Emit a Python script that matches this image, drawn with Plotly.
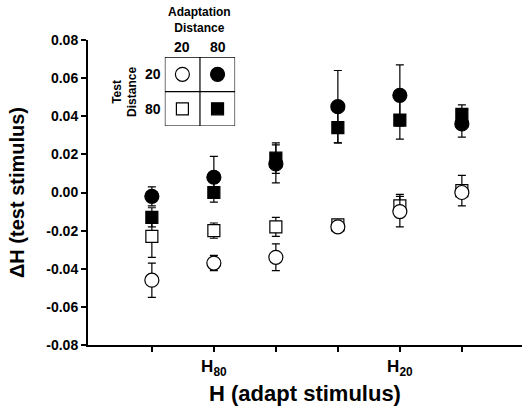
import plotly.graph_objects as go

# Data
x_pos = [1, 2, 3, 4, 5, 6]
x_tick_vals = [1, 2, 3, 4, 5, 6]
x_tick_labels = ["", "H<sub>80</sub>", "", "", "H<sub>20</sub>", ""]

# Test 20 / Adapt 20 (open circle)
oc_y = [-0.046, -0.037, -0.034, -0.018, -0.010, 0.000]
oc_e = [0.009, 0.004, 0.007, 0.002, 0.008, 0.002]
# Test 20 / Adapt 80 (filled circle)
fc_y = [-0.002, 0.008, 0.015, 0.045, 0.051, 0.036]
fc_e = [0.005, 0.011, 0.010, 0.019, 0.016, 0.007]
# Test 80 / Adapt 20 (open square)
os_y = [-0.023, -0.020, -0.018, -0.017, -0.007, 0.001]
os_e = [0.011, 0.004, 0.005, 0.002, 0.006, 0.008]
# Test 80 / Adapt 80 (filled square)
fs_y = [-0.013, 0.000, 0.018, 0.034, 0.038, 0.041]
fs_e = [0.005, 0.005, 0.008, 0.008, 0.010, 0.005]

y_ticks = [-0.08, -0.06, -0.04, -0.02, 0.00, 0.02, 0.04, 0.06, 0.08]

# Inset key
key_x = [0.5, 1.5, 0.5, 1.5]
key_y = [1.5, 1.5, 0.5, 0.5]
key_symbols = ["circle", "circle", "square", "square"]
key_fill = ["white", "black", "white", "black"]

FONT = "Arial, Liberation Sans, sans-serif"

fig = go.Figure()

def add_series(y, e, symbol, fill):
    fig.add_trace(go.Scatter(
        x=x_pos, y=y, mode="markers", opacity=1,
        error_y=dict(type="data", array=e, visible=True, color="black",
                     thickness=1.2, width=4),
        marker=dict(symbol=symbol, size=14 if "circle" in symbol else 12,
                    color=fill, opacity=1, line=dict(color="black", width=1.2)),
        showlegend=False,
    ))

add_series(os_y, os_e, "square", "white")
add_series(oc_y, oc_e, "circle", "white")
add_series(fs_y, fs_e, "square", "black")
add_series(fc_y, fc_e, "circle", "black")

# Inset key on its own axes, one trace per cell
for kx, ky, ks, kf in zip(key_x, key_y, key_symbols, key_fill):
    fig.add_trace(go.Scatter(
        x=[kx], y=[ky], mode="markers", opacity=1,
        marker=dict(symbol=ks, size=14 if ks == "circle" else 12,
                    color=kf, opacity=1, line=dict(color="black", width=1.2)),
        xaxis="x2", yaxis="y2", showlegend=False, hoverinfo="skip",
    ))
fig.add_shape(type="rect", xref="x2", yref="y2", x0=0, x1=2, y0=0, y1=2,
              line=dict(color="black", width=1.2))
fig.add_shape(type="line", xref="x2", yref="y2", x0=1, x1=1, y0=0, y1=2, line=dict(color="black", width=1.2))
fig.add_shape(type="line", xref="x2", yref="y2", x0=0, x1=2, y0=1, y1=1, line=dict(color="black", width=1.2))

# Inset labels (paper coordinates, derived from inset domain)
dx0, dx1 = 0.177, 0.339
dy0, dy1 = 0.718, 0.944
def px(u):
    return dx0 + (dx1 - dx0) * u / 2
def py(v):
    return dy0 + (dy1 - dy0) * v / 2

bold = dict(family=FONT, size=14, color="black")
ann = [
    dict(x=px(1), y=py(3.07), text="<b>Adaptation<br>Distance</b>", font=dict(family=FONT, size=12, color="black")),
    dict(x=px(0.5), y=py(2.3), text="<b>20</b>", font=bold),
    dict(x=px(1.5), y=py(2.3), text="<b>80</b>", font=bold),
    dict(x=px(-0.35), y=py(1.5), text="<b>20</b>", font=bold),
    dict(x=px(-0.35), y=py(0.5), text="<b>80</b>", font=bold),
    dict(x=px(-1.15), y=py(1.0), text="<b>Test<br>Distance</b>", textangle=-90, font=dict(family=FONT, size=12, color="black")),
]
for a in ann:
    fig.add_annotation(xref="paper", yref="paper", showarrow=False,
                       xanchor="center", yanchor="middle", **a)

y_tick_text = ["<b>%.2f</b>" % v for v in y_ticks]
x_tick_text = ["<b>%s</b>" % t if t else "" for t in x_tick_labels]

fig.update_layout(
    width=522, height=413,
    margin=dict(l=88, r=0, t=40, b=68, autoexpand=False),
    paper_bgcolor="white", plot_bgcolor="white",
    font=dict(family=FONT, color="black"),
    xaxis=dict(range=[-0.03, 6.97], tickvals=x_tick_vals, ticktext=x_tick_text, automargin=False,
               ticks="outside", ticklen=5, tickwidth=1.5, tickcolor="black",
               showline=True, linecolor="black", linewidth=2, showgrid=False,
               zeroline=False, tickfont=dict(family=FONT, size=17, color="black"),
               title=dict(text="<b>H (adapt stimulus)</b>", font=dict(family=FONT, size=22, color="black"), standoff=8)),
    yaxis=dict(range=[-0.08, 0.08], tickvals=y_ticks, ticktext=y_tick_text, automargin=False,
               ticks="outside", ticklen=5, tickwidth=1.5, tickcolor="black",
               showline=True, linecolor="black", linewidth=2, showgrid=False,
               zeroline=False, tickfont=dict(family=FONT, size=14, color="black"),
               title=dict(text="<b>ΔH (test stimulus)</b>", font=dict(family=FONT, size=20, color="black"), standoff=16)),
    xaxis2=dict(domain=[dx0, dx1], range=[0, 2], showline=False, showgrid=False, automargin=False,
                zeroline=False, showticklabels=False, ticks="", anchor="y2", fixedrange=True),
    yaxis2=dict(domain=[dy0, dy1], range=[0, 2], showline=False, showgrid=False, automargin=False,
                zeroline=False, showticklabels=False, ticks="", anchor="x2", fixedrange=True),
)

fig.write_html("out.html", config={"displayModeBar": False},
               post_script="document.body.style.margin='0px';")
